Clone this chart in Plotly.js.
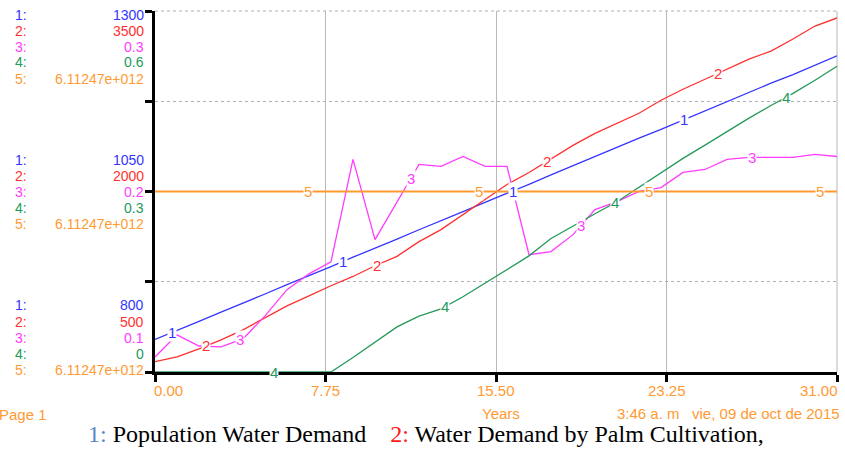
<!DOCTYPE html>
<html><head><meta charset="utf-8">
<script src="https://cdn.plot.ly/plotly-3.0.1.min.js"></script>
<style>html,body{margin:0;padding:0;background:#fff;overflow:hidden}#chart{width:845px;height:449px;}</style>
</head><body><div id="chart"></div>
<script>
// ---------- DATA ----------
const years = [0,1,2,3,4,5,6,7,8,9,10,11,12,13,14,15,16,17,18,19,20,21,22,23,24,25,26,27,28,29,30,31];
const populationWaterDemand = [845,857,870,883,895,908,921,933,946,959,971,984,997,1009,1022,1035,1047,1060,1073,1086,1098,1111,1124,1136,1149,1162,1174,1187,1200,1212,1225,1238];
const palmWaterDemand = [586,625,692,767,850,950,1050,1133,1217,1294,1383,1461,1583,1683,1808,1933,2058,2158,2267,2383,2483,2567,2650,2758,2850,2933,3017,3100,3167,3267,3375,3442];
const series3 = [0.1083,0.1206,0.1144,0.1139,0.1183,0.1311,0.1456,0.1544,0.1611,0.2178,0.1733,0.1944,0.2150,0.2139,0.2194,0.2139,0.2139,0.1650,0.1667,0.1761,0.1900,0.1944,0.2000,0.2022,0.2106,0.2122,0.2178,0.2189,0.2189,0.2189,0.2206,0.2194];
const series4 = [0,0,0,0,0,0,0,0,0,0.024,0.050,0.075,0.093,0.105,0.125,0.148,0.170,0.193,0.222,0.243,0.263,0.283,0.307,0.330,0.355,0.377,0.400,0.422,0.443,0.463,0.485,0.508];
const series5 = [6.11247e12,6.11247e12,6.11247e12,6.11247e12,6.11247e12,6.11247e12,6.11247e12,6.11247e12,6.11247e12,6.11247e12,6.11247e12,6.11247e12,6.11247e12,6.11247e12,6.11247e12,6.11247e12,6.11247e12,6.11247e12,6.11247e12,6.11247e12,6.11247e12,6.11247e12,6.11247e12,6.11247e12,6.11247e12,6.11247e12,6.11247e12,6.11247e12,6.11247e12,6.11247e12,6.11247e12,6.11247e12];

const seriesIds = ['1','2','3','4','5'];
const scaleMin = [800, 500, 0.1, 0, 6.11247e12];
const scaleMax = [1300, 3500, 0.3, 0.6, 6.11247e12];
const topLabels = ['1300','3500','0.3','0.6','6.11247e+012'];
const midLabels = ['1050','2000','0.2','0.3','6.11247e+012'];
const botLabels = ['800','500','0.1','0','6.11247e+012'];
const xTickVals = [0, 7.75, 15.5, 23.25, 31];
const xTickText = ['0.00','7.75','15.50','23.25','31.00'];
const xAxisTitle = 'Years';
const pageText = 'Page 1';
const stampText = '3:46 a. m\u00a0\u00a0\u00a0vie, 09 de oct de 2015';
const legendNames = ['Population Water Demand', 'Water Demand by Palm Cultivation,'];

// ---------- STYLE ----------
const colors = ['#3535ff', '#ff3030', '#ff3cff', '#24995a', '#ff9a33'];
const legendNumColors = ['#5a86c8', '#ff1a1a'];
const FONT = 'Arial, "Liberation Sans", sans-serif';
const W = 845, H = 449, L = 155, R = 837, T = 11, B = 372;
const px2x = px => (px - L) / (R - L);
const px2y = py => (B - py) / (B - T);

const allSeries = [populationWaterDemand, palmWaterDemand, series3, series4, series5];
const axisIds = ['y', 'y2', 'y3', 'y4', 'y5'];

const traces = allSeries.map((vals, i) => ({
  type: 'scatter', mode: 'lines', x: years, y: vals,
  xaxis: 'x', yaxis: axisIds[i],
  line: {color: colors[i], width: i === 4 ? 2 : 1.3},
  hoverinfo: 'skip', showlegend: false
}));

function rangeFor(i) {
  if (scaleMin[i] === scaleMax[i]) return [scaleMin[i] * 0.5, scaleMax[i] * 1.5];
  return [scaleMin[i], scaleMax[i]];
}
function interp(arr, t) {
  for (let k = 0; k < years.length - 1; k++) {
    if (t >= years[k] && t <= years[k + 1]) {
      const f = (t - years[k]) / (years[k + 1] - years[k]);
      return arr[k] + f * (arr[k + 1] - arr[k]);
    }
  }
  return arr[arr.length - 1];
}

const annotations = [];
// left scale labels
const groupY = [[15, 31, 47, 62.5, 78.5], [160, 176, 192, 208, 224], [305, 321.5, 338, 354, 370]];
const groupLabels = [topLabels, midLabels, botLabels];
groupY.forEach((ys, g) => {
  ys.forEach((py, k) => {
    annotations.push({xref: 'paper', yref: 'paper', x: px2x(13), y: px2y(py), xanchor: 'left', yanchor: 'middle',
      text: seriesIds[k] + ':', showarrow: false, font: {family: FONT, size: 14, color: colors[k]}});
    annotations.push({xref: 'paper', yref: 'paper', x: px2x(146), y: px2y(py), xanchor: 'right', yanchor: 'middle',
      text: groupLabels[g][k], showarrow: false, font: {family: FONT, size: 14, color: colors[k]}});
  });
});
// x tick labels
xTickVals.forEach((v, i) => {
  const anchor = i === 0 ? 'left' : (i === xTickVals.length - 1 ? 'right' : 'center');
  const shift = i === 0 ? -3 : (i === xTickVals.length - 1 ? 3 : 0);
  annotations.push({xref: 'x', yref: 'paper', x: v, xshift: shift, y: px2y(390), xanchor: anchor, yanchor: 'middle',
    text: xTickText[i], showarrow: false, font: {family: FONT, size: 15, color: colors[4]}});
});
annotations.push({xref: 'paper', yref: 'paper', x: px2x(501), y: px2y(413), xanchor: 'center', yanchor: 'middle',
  text: xAxisTitle, showarrow: false, font: {family: FONT, size: 15, color: colors[4]}});
annotations.push({xref: 'paper', yref: 'paper', x: px2x(-3), y: px2y(414), xanchor: 'left', yanchor: 'middle',
  text: pageText, showarrow: false, font: {family: FONT, size: 15, color: colors[4]}});
annotations.push({xref: 'paper', yref: 'paper', x: px2x(842), y: px2y(413), xanchor: 'right', yanchor: 'middle',
  text: stampText, showarrow: false, font: {family: FONT, size: 15, color: colors[4]}});
// bottom legend line
annotations.push({xref: 'paper', yref: 'paper', x: px2x(86), y: px2y(434), xanchor: 'left', yanchor: 'middle',
  text: '<span style="color:' + legendNumColors[0] + '">1:</span> ' + legendNames[0] +
        '\u00a0\u00a0\u00a0\u00a0<span style="color:' + legendNumColors[1] + '">2:</span> ' + legendNames[1],
  showarrow: false, font: {family: '"Liberation Serif", "Times New Roman", serif', size: 24, color: '#000'}});
// on-line series number labels
allSeries.forEach((vals, i) => {
  for (let j = 0; j < 4; j++) {
    const t = 0.775 + i * 1.55 + j * 7.75;
    annotations.push({xref: 'x', yref: axisIds[i], x: t, y: interp(vals, t), xanchor: 'center', yanchor: 'middle',
      text: seriesIds[i], showarrow: false, bgcolor: '#ffffff', borderpad: 0,
      font: {family: FONT, size: 15, color: colors[i]}});
  }
});

const layout = {
  width: W, height: H,
  margin: {l: L, r: W - R, t: T, b: H - B, pad: 0},
  paper_bgcolor: '#fff', plot_bgcolor: '#fff',
  showlegend: false,
  xaxis: {range: [0, 31], tickvals: xTickVals, showticklabels: false,
    showgrid: true, gridcolor: '#b8b8b8', gridwidth: 1, zeroline: false,
    showline: true, linecolor: '#000', linewidth: 3,
    ticks: 'outside', ticklen: 7, tickwidth: 3, tickcolor: '#000', fixedrange: true},
  yaxis: {range: rangeFor(0), tickvals: [800, 925, 1050, 1175, 1300], showticklabels: false,
    showgrid: true, gridcolor: '#b0b0b0', gridwidth: 1, griddash: 'dot', zeroline: false,
    showline: true, linecolor: '#000', linewidth: 3,
    ticks: 'outside', ticklen: 7, tickwidth: 3, tickcolor: '#000', fixedrange: true},
  shapes: [
    {type: 'line', xref: 'paper', yref: 'paper', x0: 0, x1: 1, y0: 1, y1: 1, layer: 'below',
      line: {color: '#b0b0b0', width: 1, dash: 'dot'}},
    {type: 'line', xref: 'paper', yref: 'paper', x0: 1, x1: 1, y0: 0, y1: 1, layer: 'below',
      line: {color: '#b8b8b8', width: 1}}
  ],
  annotations: annotations
};
for (let i = 1; i < 5; i++) {
  layout['yaxis' + (i + 1)] = {range: rangeFor(i), overlaying: 'y', visible: false, fixedrange: true,
    showgrid: false, zeroline: false, showticklabels: false};
}

Plotly.newPlot('chart', traces, layout, {staticPlot: true, displayModeBar: false});
</script></body></html>
